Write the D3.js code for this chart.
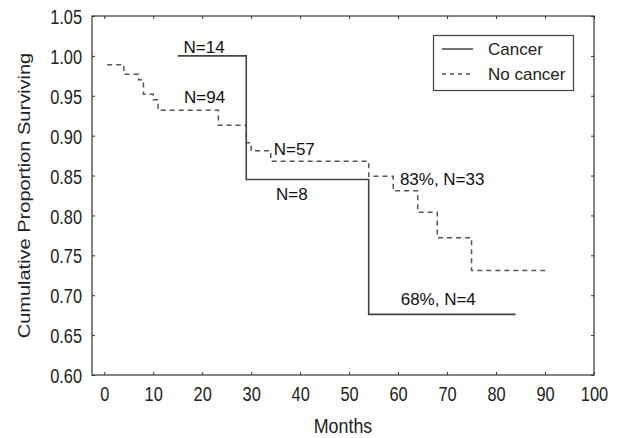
<!DOCTYPE html>
<html><head><meta charset="utf-8">
<script src="https://cdn.jsdelivr.net/npm/d3@7"></script>
<style>body{margin:0;background:#fff}svg{display:block}</style>
</head><body>
<svg id="c" width="618" height="438"></svg>
<script>
// Data
const xTicks = [0,10,20,30,40,50,60,70,80,90,100];
const yTicks = [0.60,0.65,0.70,0.75,0.80,0.85,0.90,0.95,1.00,1.05];
const cancerMonths = [15, 29, 54, 84];
const cancerSurv   = [1.000, 0.845, 0.676, 0.676];
const noCancerMonths = [0.6, 4, 7, 8, 10, 11, 23.3, 29, 30, 34, 54, 59, 64, 68, 75, 90];
const noCancerSurv   = [0.989, 0.977, 0.970, 0.952, 0.945, 0.932, 0.913, 0.891, 0.881, 0.868, 0.849, 0.831, 0.804, 0.772, 0.731, 0.731];
const annotations = [
  {text:"N=14", m:20.4, v:1.000, dy:-3},
  {text:"N=94", m:20.5, v:0.932, dy:-7},
  {text:"N=57", m:38.8, v:0.868, dy:-6},
  {text:"N=8", m:38.3, v:0.845, dy:20.5},
  {text:"83%, N=33", m:69, v:0.849, dy:8.6},
  {text:"68%, N=4", m:68.2, v:0.676, dy:-9.5}
];
const seriesNames = ["Cancer","No cancer"];

const svg = d3.select("#c");
const L=92, R=594, T=16, B=375;
const x = d3.scaleLinear().domain([-2.5,100]).range([L,R]);
const y = d3.scaleLinear().domain([0.60,1.05]).range([B,T]);
const axisColor="#333";
const tickFont="Liberation Sans, Arial, sans-serif";

// bottom axis
const gb = svg.append("g").attr("transform",`translate(0,${B})`)
  .call(d3.axisBottom(x).tickValues(xTicks).tickSize(-3).tickPadding(0).tickFormat(d3.format("d")));
gb.select(".domain").remove();
gb.selectAll("line").attr("stroke",axisColor);
gb.selectAll("text").attr("y",26).attr("dy",0).attr("transform","scale(0.78,1)")
  .attr("font-size",21).attr("font-family",tickFont).attr("fill","#222");
// top
const gt = svg.append("g").attr("transform",`translate(0,${T})`)
  .call(d3.axisTop(x).tickValues(xTicks).tickSize(-3).tickFormat(""));
gt.select(".domain").remove(); gt.selectAll("line").attr("stroke",axisColor);
// left
const gl = svg.append("g").attr("transform",`translate(${L},0)`)
  .call(d3.axisLeft(y).tickValues(yTicks).tickSize(-3).tickFormat(d3.format(".2f")));
gl.select(".domain").remove(); gl.selectAll("line").attr("stroke",axisColor);
gl.selectAll("text").attr("x",-10/0.78).attr("dy","0.36em").attr("transform","scale(0.78,1)")
  .attr("font-size",21).attr("font-family",tickFont).attr("fill","#222");
// right
const gr = svg.append("g").attr("transform",`translate(${R},0)`)
  .call(d3.axisRight(y).tickValues(yTicks).tickSize(-3).tickFormat(""));
gr.select(".domain").remove(); gr.selectAll("line").attr("stroke",axisColor);

// frame
svg.append("rect").attr("x",L).attr("y",T).attr("width",R-L).attr("height",B-T)
  .attr("fill","none").attr("stroke",axisColor).attr("stroke-width",1.2);

// axis titles
svg.append("text").attr("transform",`translate(343,433) scale(0.85,1)`).attr("text-anchor","middle")
  .attr("font-size",21).attr("font-family",tickFont).attr("fill","#222").text("Months");
svg.append("text").attr("transform",`translate(30,${(T+B)/2}) scale(0.85,1) rotate(-90)`).attr("text-anchor","middle")
  .attr("font-size",20).attr("font-family",tickFont).attr("fill","#222").text("Cumulative Proportion Surviving");

// curves
const line = d3.line().x(d=>x(d[0])).y(d=>y(d[1])).curve(d3.curveStepAfter);
const cancer = cancerMonths.map((m,i)=>[m,cancerSurv[i]]);
const noCancer = noCancerMonths.map((m,i)=>[m,noCancerSurv[i]]);
svg.append("path").attr("d",line(noCancer)).attr("fill","none").attr("stroke","#555")
  .attr("stroke-width",1.5).attr("stroke-dasharray","5,4");
svg.append("path").attr("d",line(cancer)).attr("fill","none").attr("stroke","#444")
  .attr("stroke-width",1.6);

// annotations
svg.selectAll("text.ann").data(annotations).join("text").attr("class","ann")
  .attr("x",d=>x(d.m)).attr("y",d=>y(d.v)+d.dy).attr("text-anchor","middle")
  .attr("font-size",17).attr("font-family","Liberation Sans, Arial, sans-serif").attr("fill","#111")
  .text(d=>d.text);

// legend
const lg = svg.append("g");
lg.append("rect").attr("x",433.5).attr("y",35.5).attr("width",140).attr("height",55)
  .attr("fill","#fff").attr("stroke","#444").attr("stroke-width",1.2);
seriesNames.forEach((n,i)=>{
  const yy = 49 + i*25;
  lg.append("line").attr("x1",442).attr("x2",473).attr("y1",yy).attr("y2",yy)
    .attr("stroke", i===0?"#444":"#555").attr("stroke-width",1.5)
    .attr("stroke-dasharray", i===0?null:"4,4");
  lg.append("text").attr("x",488).attr("y",yy+6).attr("font-size",17)
    .attr("font-family","Liberation Sans, Arial, sans-serif").attr("fill","#222").text(n);
});
</script>
</body></html>
